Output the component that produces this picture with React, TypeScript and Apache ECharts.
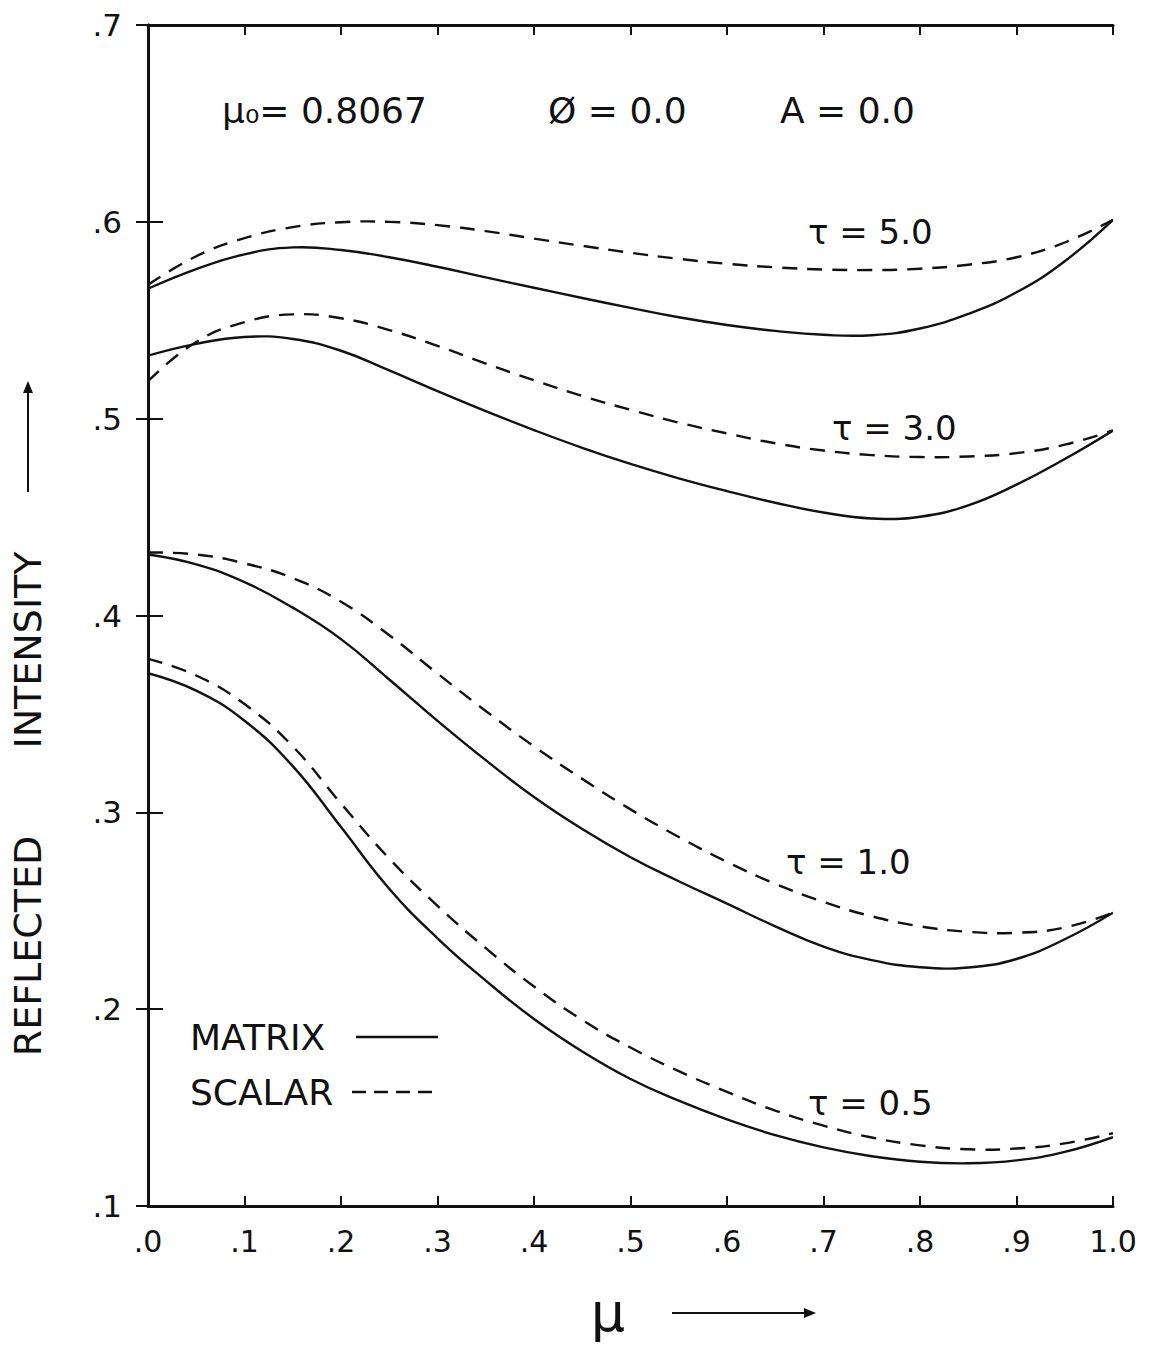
import React, { useEffect, useRef } from "react";
import * as echarts from "echarts";

const MU = [0, 0.05, 0.1, 0.15, 0.2, 0.25, 0.3, 0.35, 0.4, 0.45, 0.5, 0.55, 0.6, 0.65, 0.7, 0.75, 0.8, 0.85, 0.9, 0.95, 1.0];

// MATRIX (solid) curves
const MATRIX_T50 = [0.566, 0.576, 0.5835, 0.587, 0.5857, 0.582, 0.5772, 0.5718, 0.5665, 0.5613, 0.5563, 0.5515, 0.5476, 0.5446, 0.5426, 0.5424, 0.5458, 0.5532, 0.5642, 0.58, 0.601];
const MATRIX_T30 = [0.532, 0.538, 0.5415, 0.5405, 0.5345, 0.5245, 0.514, 0.5038, 0.4942, 0.4852, 0.477, 0.4697, 0.4632, 0.4573, 0.4523, 0.4493, 0.4502, 0.456, 0.4665, 0.4795, 0.494];
const MATRIX_T10 = [0.431, 0.426, 0.417, 0.404, 0.388, 0.3675, 0.3465, 0.3265, 0.3078, 0.2915, 0.2772, 0.265, 0.2536, 0.2421, 0.2318, 0.2249, 0.2213, 0.2212, 0.2255, 0.2355, 0.249];
const MATRIX_T05 = [0.3707, 0.3618, 0.3465, 0.3235, 0.2925, 0.2612, 0.236, 0.2145, 0.195, 0.1785, 0.1645, 0.1535, 0.144, 0.136, 0.1298, 0.1253, 0.1225, 0.1217, 0.1232, 0.1275, 0.135];

// SCALAR (dashed) curves
const SCALAR_T50 = [0.568, 0.5825, 0.5917, 0.5973, 0.5998, 0.6, 0.5983, 0.5953, 0.5915, 0.5878, 0.5843, 0.5812, 0.5787, 0.5769, 0.5758, 0.5755, 0.5762, 0.5782, 0.582, 0.5895, 0.601];
const SCALAR_T30 = [0.519, 0.539, 0.549, 0.553, 0.551, 0.545, 0.537, 0.528, 0.5195, 0.5115, 0.5045, 0.498, 0.4925, 0.4875, 0.4838, 0.4815, 0.4805, 0.4808, 0.4825, 0.4868, 0.494];
const SCALAR_T10 = [0.432, 0.431, 0.4265, 0.419, 0.407, 0.39, 0.3705, 0.3515, 0.3335, 0.317, 0.3015, 0.2875, 0.2748, 0.2637, 0.2545, 0.2472, 0.2421, 0.2393, 0.2388, 0.2415, 0.249];
const SCALAR_T05 = [0.378, 0.3695, 0.355, 0.3335, 0.3045, 0.2765, 0.2525, 0.231, 0.2115, 0.1945, 0.1805, 0.1685, 0.158, 0.1485, 0.1408, 0.1348, 0.1308, 0.1288, 0.1292, 0.1318, 0.137];

const CURVE_LABELS = ["τ = 5.0", "τ = 3.0", "τ = 1.0", "τ = 0.5"];
const LEGEND_NAMES = ["MATRIX", "SCALAR"];
const PARAM_TEXTS = ["μ₀= 0.8067", "Ø = 0.0", "A = 0.0"];
const Y_TITLE = ["REFLECTED", "INTENSITY"];
const X_TITLE = "μ";

const INK = "#111";
const FONT = "'DejaVu Sans', 'Liberation Sans', sans-serif";

function zip(ys: number[]) {
  return MU.map((x, i) => [x, ys[i]]);
}

export default function App() {
  const ref = useRef<HTMLDivElement>(null);
  useEffect(() => {
    if (!ref.current) return;
    const chart = echarts.init(ref.current, null, { renderer: "svg" });
    // Smooth curve through the data points, positioned by the chart's own axes.
    const mk = (name: string, ys: number[], dashed: boolean) => ({
      name,
      type: "custom",
      data: zip(ys),
      encode: { x: 0, y: 1 },
      silent: true,
      clip: true,
      renderItem: (params: any, api: any) => {
        if (params.dataIndex !== 0) return null;
        const pts = MU.map((x, i) => api.coord([x, ys[i]]));
        return {
          type: "polyline",
          silent: true,
          shape: { points: pts, smooth: 0.45 },
          style: {
            stroke: INK,
            lineWidth: 2.4,
            fill: "none",
            lineDash: dashed ? [15, 10] : null,
          },
        };
      },
    });
    const axisCommon = {
      axisLine: { show: true, lineStyle: { color: INK, width: 3 } },
      splitLine: { show: false },
    };
    const txt = (text: string, x: number, y: number, size: number, extra: any = {}) => ({
      type: "text", x, y, ...extra,
      style: { text, fill: INK, font: `${size}px ${FONT}`, verticalAlign: "middle", ...(extra.style || {}) },
    });
    chart.setOption({
      animation: false,
      backgroundColor: "#fff",
      grid: { left: 148, top: 25, right: 39, bottom: 145, containLabel: false, outerBoundsMode: "none" },
      xAxis: [
        {
          type: "value", min: 0, max: 1, interval: 0.1, position: "bottom",
          ...axisCommon,
          axisTick: { show: true, inside: true, length: 10, lineStyle: { color: INK, width: 2 } },
          axisLabel: {
            color: INK, fontSize: 30, fontFamily: FONT, margin: 20,
            formatter: (v: number) => (Math.abs(v - 1) < 1e-9 ? "1.0" : "." + Math.round(v * 10)),
          },
        },
        {
          type: "value", min: 0, max: 1, interval: 0.1, position: "top",
          ...axisCommon,
          axisTick: { show: true, inside: true, length: 10, lineStyle: { color: INK, width: 2 } },
          axisLabel: { show: false },
        },
      ],
      yAxis: [
        {
          type: "value", min: 0.1, max: 0.7, interval: 0.1, position: "left",
          ...axisCommon,
          axisTick: { show: true, inside: true, length: 15, lineStyle: { color: INK, width: 2 } },
          axisLabel: {
            color: INK, fontSize: 31, fontFamily: FONT, margin: 26,
            formatter: (v: number) => "." + Math.round(v * 10),
          },
        },
        {
          type: "value", min: 0.1, max: 0.7, interval: 0.1, position: "right",
          ...axisCommon,
          axisTick: { show: true, inside: true, length: 12, lineStyle: { color: INK, width: 2 } },
          axisLabel: { show: false },
        },
      ],
      series: [
        mk("MATRIX τ=5.0", MATRIX_T50, false),
        mk("MATRIX τ=3.0", MATRIX_T30, false),
        mk("MATRIX τ=1.0", MATRIX_T10, false),
        mk("MATRIX τ=0.5", MATRIX_T05, false),
        mk("SCALAR τ=5.0", SCALAR_T50, true),
        mk("SCALAR τ=3.0", SCALAR_T30, true),
        mk("SCALAR τ=1.0", SCALAR_T10, true),
        mk("SCALAR τ=0.5", SCALAR_T05, true),
      ],
      graphic: [
        // parameter header
        txt(PARAM_TEXTS[0], 222, 110, 36),
        txt(PARAM_TEXTS[1], 548, 110, 36),
        txt(PARAM_TEXTS[2], 780, 110, 36),
        // curve labels
        txt(CURVE_LABELS[0], 808, 232, 34),
        txt(CURVE_LABELS[1], 832, 428, 34),
        txt(CURVE_LABELS[2], 786, 862, 34),
        txt(CURVE_LABELS[3], 808, 1103, 34),
        // legend
        txt(LEGEND_NAMES[0], 190, 1037, 36),
        { type: "line", shape: { x1: 356, y1: 1037, x2: 438, y2: 1037 }, style: { stroke: INK, lineWidth: 2.4 } },
        txt(LEGEND_NAMES[1], 190, 1092, 36),
        { type: "line", shape: { x1: 352, y1: 1092, x2: 438, y2: 1092 }, style: { stroke: INK, lineWidth: 2.4, lineDash: [14, 8] } },
        // y title
        txt(Y_TITLE[0], 28, 946, 38, { rotation: Math.PI / 2, style: { align: "center" } }),
        txt(Y_TITLE[1], 28, 650, 38, { rotation: Math.PI / 2, style: { align: "center" } }),
        { type: "line", shape: { x1: 28, y1: 492, x2: 28, y2: 390 }, style: { stroke: INK, lineWidth: 2 } },
        { type: "polygon", shape: { points: [[28, 381], [23, 393], [33, 393]] }, style: { fill: INK } },
        // x title
        txt(X_TITLE, 608, 1312, 54, { style: { align: "center" } }),
        { type: "line", shape: { x1: 672, y1: 1313, x2: 806, y2: 1313 }, style: { stroke: INK, lineWidth: 2 } },
        { type: "polygon", shape: { points: [[816, 1313], [804, 1308], [804, 1318]] }, style: { fill: INK } },
      ],
    });
    return () => chart.dispose();
  }, []);
  return <div ref={ref} style={{ width: 1152, height: 1351, margin: -8 }} />;
}
